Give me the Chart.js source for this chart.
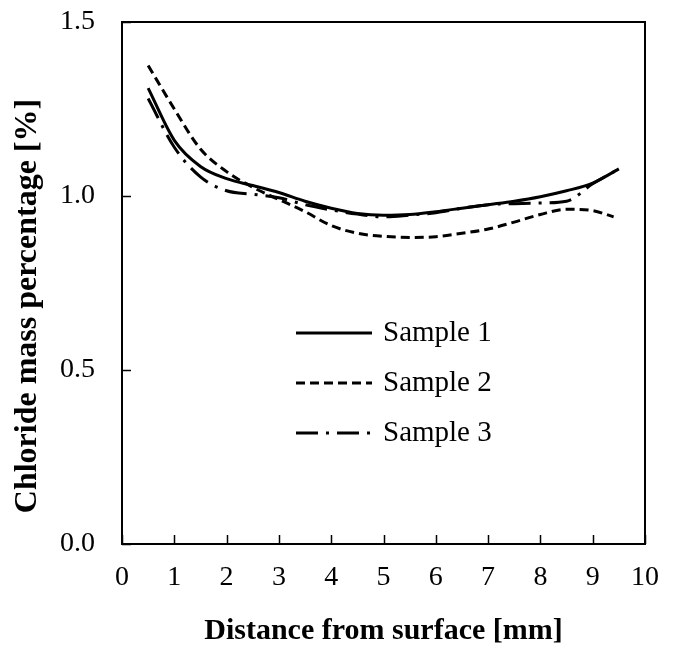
<!DOCTYPE html>
<html>
<head>
<meta charset="utf-8">
<script src="https://cdn.jsdelivr.net/npm/chart.js@4/dist/chart.umd.min.js"></script>
<style>
  html, body { margin: 0; padding: 0; background: #fff; }
  #wrap { width: 674px; height: 646px; }
</style>
</head>
<body>
<div id="wrap"><canvas id="chlorideChart" width="674" height="646"></canvas></div>
<script>
// distances (mm) where values were read
const distances = [0.5, 1.0, 1.5, 2.0, 2.5, 3.0, 3.5, 4.0, 4.5, 5.0, 5.5, 6.0, 6.5, 7.0, 7.5, 8.0, 8.5, 9.0, 9.5];
const distances2 = [0.5, 1.0, 1.5, 2.0, 2.5, 3.0, 3.5, 4.0, 4.5, 5.0, 5.5, 6.0, 6.5, 7.0, 7.5, 8.0, 8.5, 9.0, 9.4];

const sample1 = [1.31, 1.16, 1.085, 1.05, 1.03, 1.01, 0.985, 0.965, 0.95, 0.945, 0.947, 0.955, 0.965, 0.975, 0.985, 0.998, 1.015, 1.037, 1.078];
const sample2 = [1.375, 1.25, 1.135, 1.07, 1.025, 0.99, 0.955, 0.915, 0.893, 0.884, 0.881, 0.883, 0.893, 0.905, 0.925, 0.947, 0.962, 0.958, 0.94];
const sample3 = [1.28, 1.14, 1.055, 1.015, 1.005, 0.995, 0.975, 0.96, 0.948, 0.94, 0.945, 0.952, 0.965, 0.975, 0.978, 0.98, 0.985, 1.035, 1.078];

const seriesNames = ['Sample 1', 'Sample 2', 'Sample 3'];
const xTicks = [0, 1, 2, 3, 4, 5, 6, 7, 8, 9, 10];
const yTicks = [0, 0.5, 1.0, 1.5];
const yTitle = 'Chloride mass percentage [%]';

const serif = '"Liberation Serif", "Times New Roman", serif';

function pairs(xs, ys) {
    return xs.map((x, i) => ({ x: x, y: ys[i] }));
}

// box around the plot, inward tick marks, y axis title
const frame = {
    id: 'frame',
    afterDatasetsDraw(chart) {
        const ctx = chart.ctx;
        const a = chart.chartArea;
        const xs = chart.scales.x;
        const ys = chart.scales.y;
        ctx.save();
        ctx.strokeStyle = '#000';
        ctx.lineWidth = 2;
        ctx.strokeRect(a.left, a.top, a.right - a.left, a.bottom - a.top);
        ctx.lineWidth = 1.5;
        ctx.beginPath();
        xTicks.forEach(v => {
            const px = Math.round(xs.getPixelForValue(v)) + 0.5;
            ctx.moveTo(px, a.bottom);
            ctx.lineTo(px, a.bottom - 9);
        });
        yTicks.forEach(v => {
            const py = Math.round(ys.getPixelForValue(v)) + 0.5;
            ctx.moveTo(a.left, py);
            ctx.lineTo(a.left + 9, py);
        });
        ctx.stroke();

        // y title sits a bit below the plot centre in the original
        ctx.translate(28, 306);
        ctx.rotate(-Math.PI / 2);
        ctx.font = 'bold 32px ' + serif;
        ctx.fillStyle = '#000';
        ctx.textAlign = 'center';
        ctx.textBaseline = 'middle';
        ctx.fillText(yTitle, 0, 0);
        ctx.restore();
    }
};

// legend drawn inside the plot area
const innerLegend = {
    id: 'innerLegend',
    afterDraw(chart) {
        const ctx = chart.ctx;
        ctx.save();
        ctx.font = '29px ' + serif;
        ctx.fillStyle = '#000';
        ctx.textBaseline = 'middle';
        chart.data.datasets.forEach((ds, i) => {
            const y = 333 + i * 50;
            ctx.strokeStyle = '#000';
            ctx.lineWidth = ds.borderWidth;
            ctx.setLineDash(ds.borderDash || []);
            ctx.beginPath();
            ctx.moveTo(296, y);
            ctx.lineTo(372, y);
            ctx.stroke();
            ctx.setLineDash([]);
            ctx.fillText(ds.label, 383, y);
        });
        ctx.restore();
    }
};

new Chart(document.getElementById('chlorideChart'), {
    type: 'line',
    data: {
        datasets: [
            {
                label: seriesNames[0],
                data: pairs(distances, sample1),
                borderColor: '#000',
                borderWidth: 3,
                pointRadius: 0,
                cubicInterpolationMode: 'monotone'
            },
            {
                label: seriesNames[1],
                data: pairs(distances2, sample2),
                borderColor: '#000',
                borderWidth: 3,
                borderDash: [9, 5],
                pointRadius: 0,
                cubicInterpolationMode: 'monotone'
            },
            {
                label: seriesNames[2],
                data: pairs(distances, sample3),
                borderColor: '#000',
                borderWidth: 3,
                borderDash: [22, 8, 3, 8],
                pointRadius: 0,
                cubicInterpolationMode: 'monotone'
            }
        ]
    },
    options: {
        responsive: false,
        animation: false,
        layout: { padding: { top: 22, right: 29, left: 0, bottom: 0 } },
        plugins: {
            legend: { display: false },
            tooltip: { enabled: false }
        },
        scales: {
            x: {
                type: 'linear',
                min: 0,
                max: 10,
                afterFit(scale) {
                    scale.height = 102;
                    scale.paddingLeft = 0;
                    scale.paddingRight = 0;
                },
                afterBuildTicks(scale) { scale.ticks = xTicks.map(v => ({ value: v })); },
                grid: { display: false, drawTicks: false },
                border: { display: false },
                ticks: {
                    color: '#000',
                    font: { family: serif, size: 28 },
                    padding: 17,
                    maxRotation: 0
                },
                title: {
                    display: true,
                    text: 'Distance from surface [mm]',
                    color: '#000',
                    font: { family: serif, size: 30, weight: 'bold', lineHeight: 1 },
                    padding: { top: 18, bottom: 0 }
                }
            },
            y: {
                type: 'linear',
                min: 0,
                max: 1.5,
                afterFit(scale) {
                    scale.width = 122;
                    scale.paddingTop = 0;
                    scale.paddingBottom = 0;
                },
                afterBuildTicks(scale) { scale.ticks = yTicks.map(v => ({ value: v })); },
                grid: { display: false, drawTicks: false },
                border: { display: false },
                ticks: {
                    color: '#000',
                    font: { family: serif, size: 28 },
                    padding: 27,
                    callback: v => v.toFixed(1)
                }
            }
        }
    },
    plugins: [frame, innerLegend]
});
</script>
</body>
</html>
